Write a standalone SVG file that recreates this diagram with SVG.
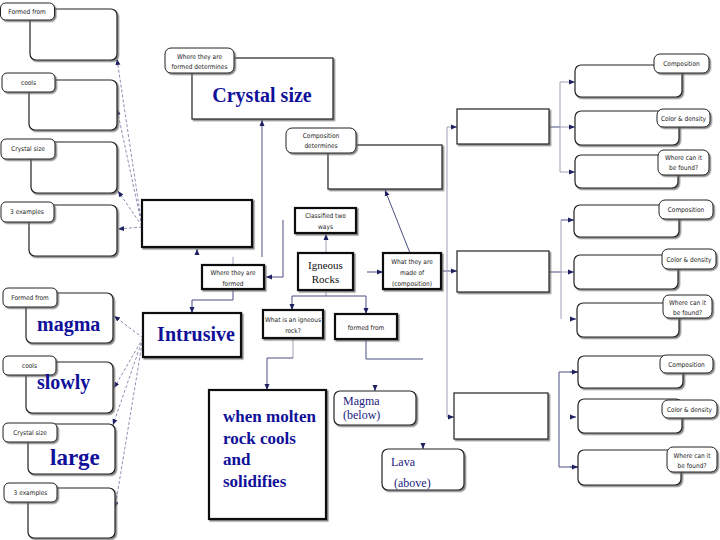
<svg xmlns="http://www.w3.org/2000/svg" width="720" height="540" viewBox="0 0 720 540">
<defs>
<filter id="sh" x="-10%" y="-10%" width="130%" height="140%"><feDropShadow dx="1.5" dy="1.5" stdDeviation="0.7" flood-color="#666" flood-opacity="0.8"/></filter>
<marker id="ar" viewBox="0 0 6 6" refX="6" refY="3" markerWidth="6" markerHeight="6" markerUnits="userSpaceOnUse" orient="auto"><path d="M0,0.5 L6,3 L0,5.5 z" fill="#1e2060"/></marker>
<style>
.bx{fill:#fff;stroke:#222;stroke-width:1.2;filter:url(#sh)}
.tk{fill:#fff;stroke:#111;stroke-width:2.2;filter:url(#sh)}
.pl{fill:#fff;stroke:#222;stroke-width:1;filter:url(#sh)}
.lb{font-family:"DejaVu Sans Condensed","DejaVu Sans",sans-serif;font-size:6.5px;fill:#222;text-anchor:middle}
.bg{font-family:"Liberation Serif",serif;font-weight:bold;fill:#10109a}
.sf{font-family:"Liberation Serif",serif;fill:#1c1c80}
.ig{font-family:"Liberation Serif",serif;fill:#111;font-size:11px;text-anchor:middle}
.cn{stroke:#4a4e84;stroke-width:1;fill:none}
.lt{stroke:#9ea0b8;stroke-width:1;fill:none}
.ds{stroke:#5a5e94;stroke-width:0.7;stroke-dasharray:3 2;fill:none}
</style>
</defs>

<g id="connectors">
<line class="ds" x1="142" y1="226" x2="117" y2="59" marker-end="url(#ar)"/>
<line class="ds" x1="142" y1="226" x2="117" y2="109" marker-end="url(#ar)"/>
<line class="ds" x1="142" y1="226" x2="118" y2="191" marker-end="url(#ar)"/>
<line class="ds" x1="142" y1="227" x2="118" y2="229" marker-end="url(#ar)"/>
<line class="ds" x1="143" y1="338" x2="114" y2="316" marker-end="url(#ar)"/>
<line class="ds" x1="143" y1="338" x2="114" y2="388" marker-end="url(#ar)"/>
<line class="ds" x1="143" y1="338" x2="113" y2="425" marker-end="url(#ar)"/>
<line class="ds" x1="143" y1="338" x2="115" y2="508" marker-end="url(#ar)"/>
<line class="lt" x1="233" y1="265" x2="233" y2="257"/>
<line class="cn" x1="197" y1="253" x2="197" y2="249" marker-end="url(#ar)"/>
<line class="cn" x1="262" y1="257" x2="262" y2="120" marker-end="url(#ar)"/>
<path class="cn" d="M283,220 V277 H266" marker-end="url(#ar)"/>
<line class="lt" x1="326" y1="253" x2="326" y2="234" marker-end="url(#ar)"/>
<line class="cn" x1="367" y1="272" x2="383" y2="272" marker-end="url(#ar)"/>
<line class="cn" x1="410" y1="253" x2="385" y2="190" marker-end="url(#ar)"/>
<line class="cn" x1="441" y1="271" x2="457" y2="271" marker-end="url(#ar)"/>
<line class="lt" x1="447" y1="127" x2="447" y2="417"/>
<line class="lt" x1="447" y1="127" x2="457" y2="127" marker-end="url(#ar)"/>
<line class="lt" x1="447" y1="417" x2="454" y2="417" marker-end="url(#ar)"/>
<line class="cn" x1="549" y1="127" x2="560" y2="127"/>
<line class="lt" x1="560" y1="82" x2="560" y2="172"/>
<line class="lt" x1="560" y1="82" x2="575" y2="82" marker-end="url(#ar)"/>
<line class="lt" x1="560" y1="127" x2="575" y2="127" marker-end="url(#ar)"/>
<line class="lt" x1="560" y1="172" x2="575" y2="172" marker-end="url(#ar)"/>
<line class="cn" x1="549" y1="272" x2="561" y2="272"/>
<line class="lt" x1="561" y1="220" x2="561" y2="319"/>
<line class="cn" x1="561" y1="220" x2="574" y2="220" marker-end="url(#ar)"/>
<line class="lt" x1="561" y1="272" x2="574" y2="272" marker-end="url(#ar)"/>
<line class="cn" x1="571" y1="319" x2="576" y2="319" marker-end="url(#ar)"/>
<path class="cn" d="M578,372 H559 V467 H578"/>
<line class="cn" x1="570" y1="372" x2="578" y2="372" marker-end="url(#ar)"/>
<line class="cn" x1="570" y1="417" x2="576" y2="417" marker-end="url(#ar)"/>
<line class="cn" x1="570" y1="467" x2="578" y2="467" marker-end="url(#ar)"/>
<path class="cn" d="M233,289 V300 H192 V313" marker-end="url(#ar)"/>
<path class="lt" d="M326,290 V296"/>
<path class="cn" d="M292,310 V296 H366 V314" marker-end="url(#ar)"/>
<line class="cn" x1="292" y1="304" x2="292" y2="310" marker-end="url(#ar)"/>
<path class="lt" d="M293,338 V358"/>
<path class="cn" d="M293,358 H267 V390" marker-end="url(#ar)"/>
<path class="cn" d="M366,339 V359 H423"/>
<line class="cn" x1="375" y1="385" x2="375" y2="391" marker-end="url(#ar)"/>
<line class="cn" x1="423" y1="443" x2="423" y2="449" marker-end="url(#ar)"/>
</g>

<g id="left-formed-from"><rect class="bx" x="30" y="9" width="87" height="51" rx="6"/><rect class="pl" x="0.5" y="3" width="54" height="17" rx="5"/><text class="lb" x="27" y="14">Formed from</text></g>
<g id="left-cools"><rect class="bx" x="29" y="80" width="88" height="50" rx="6"/><rect class="pl" x="2" y="73" width="53" height="19" rx="5"/><text class="lb" x="28.5" y="84.5">cools</text></g>
<g id="left-crystal"><rect class="bx" x="31" y="142" width="86" height="51" rx="6"/><rect class="pl" x="1" y="139" width="54" height="20" rx="5"/><text class="lb" x="28" y="151">Crystal size</text></g>
<g id="left-examples"><rect class="bx" x="29" y="205" width="88" height="51" rx="6"/><rect class="pl" x="1" y="202" width="53" height="20" rx="5"/><text class="lb" x="27" y="214">3 examples</text></g>

<g id="magma"><rect class="bx" x="26" y="293" width="87" height="50" rx="6"/><rect class="pl" x="3" y="288" width="54" height="19" rx="5"/><text class="lb" x="30" y="299.5">Formed from</text><text class="bg" x="37" y="331" font-size="20">magma</text></g>
<g id="slowly"><rect class="bx" x="26" y="362" width="87" height="51" rx="6"/><rect class="pl" x="3" y="356" width="53" height="19" rx="5"/><text class="lb" x="29.5" y="367.5">cools</text><text class="bg" x="37" y="389" font-size="20">slowly</text></g>
<g id="large"><rect class="bx" x="28" y="424" width="87" height="50" rx="6"/><rect class="pl" x="3" y="423" width="54" height="19" rx="5"/><text class="lb" x="30" y="434.5">Crystal size</text><text class="bg" x="50" y="465" font-size="23">large</text></g>
<g id="examples2"><rect class="bx" x="28" y="488" width="87" height="50" rx="6"/><rect class="pl" x="4" y="483" width="53" height="19" rx="5"/><text class="lb" x="30.5" y="494.5">3 examples</text></g>

<g id="crystal-size"><rect class="bx" x="192" y="58" width="141" height="61"/><rect class="pl" x="165" y="48" width="69" height="25" rx="6"/><text class="lb" x="199.5" y="58.5">Where they are</text><text class="lb" x="199.5" y="68.5">formed determines</text><text class="bg" x="262" y="102" font-size="20" text-anchor="middle">Crystal size</text></g>
<g id="composition-determines"><rect class="bx" x="328" y="145" width="114" height="44"/><rect class="pl" x="286" y="128" width="70" height="25" rx="6"/><text class="lb" x="321" y="138">Composition</text><text class="lb" x="321" y="148">determines</text></g>
<g id="empty-big"><rect class="tk" x="142" y="200" width="110" height="47"/></g>
<g id="classified"><rect class="tk" x="295" y="208" width="61" height="25"/><text class="lb" x="325.5" y="218">Classified two</text><text class="lb" x="325.5" y="229">ways</text></g>
<g id="igneous"><rect class="tk" x="298" y="253" width="55" height="37"/><text class="ig" x="325.5" y="269">Igneous</text><text class="ig" x="325.5" y="283">Rocks</text></g>
<g id="made-of"><rect class="tk" x="383" y="253" width="58" height="36"/><text class="lb" x="412" y="263.5">What they are</text><text class="lb" x="412" y="274.5">made of</text><text class="lb" x="412" y="285.5">(composition)</text></g>
<g id="where-formed"><rect class="tk" x="202" y="265" width="62" height="24"/><text class="lb" x="233" y="274.5">Where they are</text><text class="lb" x="233" y="285.5">formed</text></g>
<g id="intrusive"><rect class="tk" x="143" y="313" width="98" height="44"/><text class="bg" x="196" y="341" font-size="20" text-anchor="middle">Intrusive</text></g>
<g id="what-is"><rect class="tk" x="263" y="310" width="60" height="28"/><text class="lb" x="293" y="321.5">What is an igneous</text><text class="lb" x="293" y="332.5">rock?</text></g>
<g id="formed-from"><rect class="tk" x="335" y="314" width="62" height="25"/><text class="lb" x="366" y="329.5">formed from</text></g>
<g id="answer"><rect class="tk" x="209" y="390" width="117" height="129"/><text class="bg" x="223" y="422" font-size="17">when molten</text><text class="bg" x="223" y="443.5" font-size="17">rock cools</text><text class="bg" x="223" y="465" font-size="17">and</text><text class="bg" x="223" y="486.5" font-size="17">solidifies</text></g>
<g id="magma-below"><rect class="bx" x="334" y="391" width="82" height="34" rx="6"/><text class="sf" x="343" y="405" font-size="12">Magma</text><text class="sf" x="343" y="419" font-size="12">(below)</text></g>
<g id="lava-above"><rect class="bx" x="382" y="449" width="82" height="41" rx="6"/><text class="sf" x="391" y="466" font-size="12">Lava</text><text class="sf" x="394" y="487" font-size="12">(above)</text></g>

<g id="mid-a"><rect class="bx" x="457" y="109" width="92" height="35"/></g>
<g id="mid-b"><rect class="bx" x="457" y="251" width="92" height="41"/></g>
<g id="mid-c"><rect class="bx" x="454" y="393" width="94" height="46"/></g>

<g id="r1-composition"><rect class="bx" x="575" y="65" width="107" height="32" rx="6"/><rect class="pl" x="654" y="54" width="55" height="19" rx="6"/><text class="lb" x="681.5" y="66">Composition</text></g>
<g id="r1-color"><rect class="bx" x="575" y="111" width="104" height="34" rx="6"/><rect class="pl" x="657" y="109" width="53" height="18" rx="6"/><text class="lb" x="683.5" y="120.5">Color &amp; density</text></g>
<g id="r1-where"><rect class="bx" x="575" y="155" width="103" height="33" rx="6"/><rect class="pl" x="658" y="150" width="51" height="25" rx="6"/><text class="lb" x="683.5" y="160">Where can it</text><text class="lb" x="683.5" y="170">be found?</text></g>

<g id="r2-composition"><rect class="bx" x="574" y="205" width="105" height="32" rx="6"/><rect class="pl" x="659" y="200" width="54" height="19" rx="6"/><text class="lb" x="686" y="212">Composition</text></g>
<g id="r2-color"><rect class="bx" x="574" y="255" width="104" height="34" rx="6"/><rect class="pl" x="662" y="249" width="54" height="20" rx="6"/><text class="lb" x="689" y="261.5">Color &amp; density</text></g>
<g id="r2-where"><rect class="bx" x="577" y="303" width="102" height="34" rx="6"/><rect class="pl" x="663" y="295" width="49" height="23" rx="6"/><text class="lb" x="687.5" y="304.5">Where can it</text><text class="lb" x="687.5" y="314.5">be found?</text></g>

<g id="r3-composition"><rect class="bx" x="578" y="356" width="105" height="32" rx="6"/><rect class="pl" x="660" y="355" width="53" height="18" rx="6"/><text class="lb" x="686.5" y="366.5">Composition</text></g>
<g id="r3-color"><rect class="bx" x="578" y="399" width="104" height="34" rx="6"/><rect class="pl" x="662" y="400" width="55" height="18" rx="6"/><text class="lb" x="689.5" y="411.5">Color &amp; density</text></g>
<g id="r3-where"><rect class="bx" x="578" y="450" width="103" height="35" rx="6"/><rect class="pl" x="667" y="447" width="50" height="25" rx="6"/><text class="lb" x="692" y="457.5">Where can it</text><text class="lb" x="692" y="467.5">be found?</text></g>
</svg>
